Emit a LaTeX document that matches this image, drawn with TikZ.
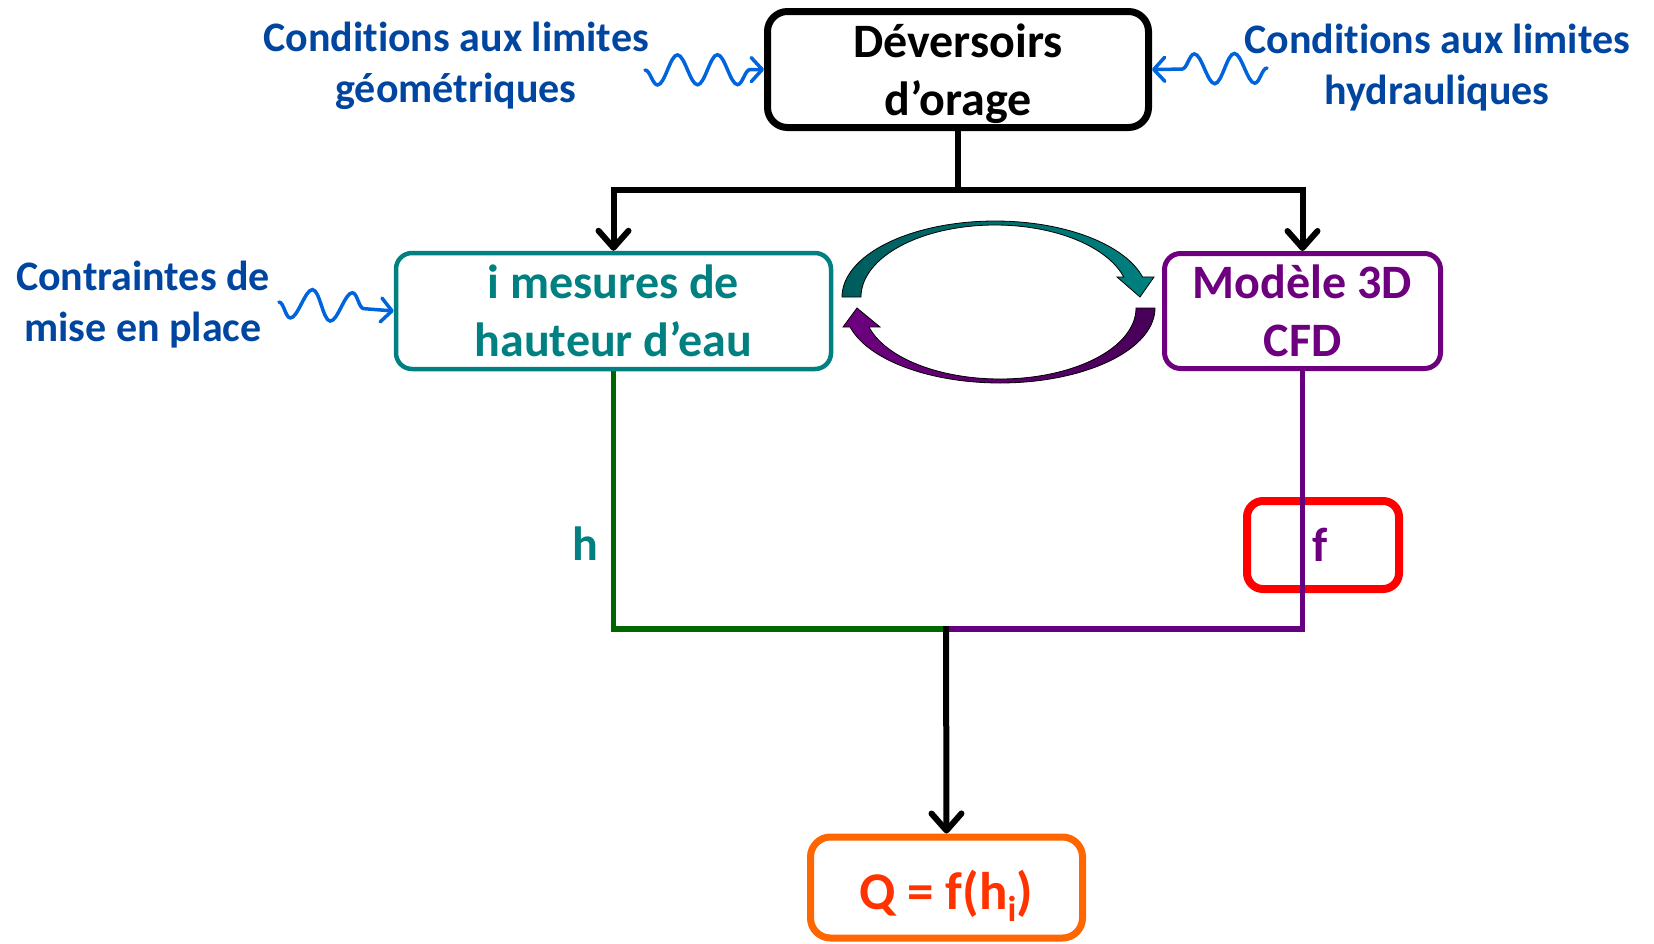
\documentclass[tikz,border=0pt]{standalone}
\usepackage{fontspec}
\setmainfont{Carlito}[Ligatures=NoCommon]
\usetikzlibrary{arrows.meta,decorations.pathmorphing}

\definecolor{tealc}{RGB}{0,128,128}
\definecolor{tealdark}{RGB}{0,92,92}
\definecolor{purplec}{RGB}{110,0,128}
\definecolor{purpledark}{RGB}{72,0,88}
\definecolor{greenline}{RGB}{0,102,0}
\definecolor{purpleline}{RGB}{102,0,128}
\definecolor{bluetext}{RGB}{0,70,160}
\definecolor{bluewave}{RGB}{0,100,220}
\definecolor{orangebox}{RGB}{255,102,0}
\definecolor{orangetext}{RGB}{255,51,0}

\tikzset{
  box/.style={draw, align=center, inner sep=0pt, font=\bfseries\fontsize{48}{58}\selectfont},
  note/.style={align=center, text=bluetext, font=\bfseries\fontsize{42}{51}\selectfont},
  label48/.style={font=\bfseries\fontsize{48}{58}\selectfont},
  conn/.style={line width=6pt, line cap=rect},
  barb/.style={-{Straight Barb[length=17pt,width=30pt,line cap=round,line join=round]}},
  wave/.style={bluewave, line width=3.5pt, line cap=round,
    decorate, decoration={snake, amplitude=15pt, segment length=40pt, post length=12pt},
    -{Straight Barb[length=11pt,width=24pt,line cap=round,line join=round]}},
  loop/.style={draw=black, line width=0.8pt},
}

\begin{document}
\begin{tikzpicture}[x=1pt, y=-1pt]
\useasboundingbox (0,0) rectangle (1654,943);

% main boxes
\node[box, line width=7pt, rounded corners=20pt, minimum width=381pt, minimum height=116pt]
  (dev) at (958,69.5) {};
\node[box, draw=none] (devtext) at (958,74) {Déversoirs\\d’orage};
\node[box, draw=tealc, text=tealc, line width=4.5pt, rounded corners=16pt,
  minimum width=435pt, minimum height=116pt]
  (mes) at (613.5,311) {i mesures de\\hauteur d’eau};
\node[box, draw=purplec, text=purplec, line width=5pt, rounded corners=16pt,
  minimum width=276pt, minimum height=115pt]
  (mod) at (1302.5,311) {Modèle 3D\\CFD};
\node[box, draw=orangebox, text=orangetext, line width=7pt, rounded corners=20pt,
  minimum width=272pt, minimum height=101pt]
  (q) at (946.5,887.5) {};
\node[text=orangetext, font=\bfseries\fontsize{53}{60}\selectfont] (qtext) at (946,896)
  {Q = f(h\raisebox{-0.22em}{\fontsize{36}{36}\selectfont i})};

% side notes
\node[note] (geo) at (456,66) {Conditions aux limites\\géométriques};
\node[note] (hyd) at (1437,68) {Conditions aux limites\\hydrauliques};
\node[note] (pose) at (143,305) {Contraintes de\\mise en place};

% wavy influence arrows
\coordinate (wgeo) at (645,70);
\coordinate (whyd) at (1267,68);
\coordinate (wpose) at (279,302);
\draw[wave, decoration={mirror}] (wgeo) -- (dev.west);
\draw[wave] (whyd) -- (dev.east);
\draw[wave, decoration={mirror}] (wpose) -- (mes.west);

% split from the weir box to both approaches
\coordinate (split) at (958,190);
\draw[conn] (dev.south) -- (split);
\draw[conn, barb] (split) -| (mes.north);
\draw[conn, barb] (split) -| (mod.north);

% exchange loop between measurements and the 3D model
\shadedraw[loop, left color=tealdark, right color=tealc]
  plot[domain=180:15.3, samples=80, variable=\t] ({995+153*cos(\t)},{297-76*sin(\t)})
  -- (1154,277) -- (1140,297) -- (1117,277)
  -- plot[domain=16.1:180, samples=80, variable=\t] ({995+134*cos(\t)},{297-72*sin(\t)})
  -- cycle;
\shadedraw[loop, left color=purplec, right color=purpledark]
  plot[domain=0:-165.3, samples=80, variable=\t] ({1000+155*cos(\t)},{308-75*sin(\t)})
  -- (843,327) -- (857,308) -- (880,327)
  -- plot[domain=-164.5:0, samples=80, variable=\t] ({1000+136*cos(\t)},{308-71*sin(\t)})
  -- cycle;

% function frame around f
\node[draw=red, line width=8pt, rounded corners=16pt, minimum width=152pt, minimum height=88pt,
  inner sep=0pt] (fbox) at (1323,545) {};

% merging of both branches
\coordinate (join) at (946,629);
\draw[greenline, line width=5.5pt] (mes.south) |- (join);
\draw[purpleline, line width=5.5pt] (mod.south) |- (join);
\draw[conn, barb] (join) -- (q.north);

% branch labels
\node[label48, text=tealc] (hlab) at (585,544) {h};
\node[label48, text=purplec] (flab) at (1320,545) {f};
\end{tikzpicture}
\end{document}
